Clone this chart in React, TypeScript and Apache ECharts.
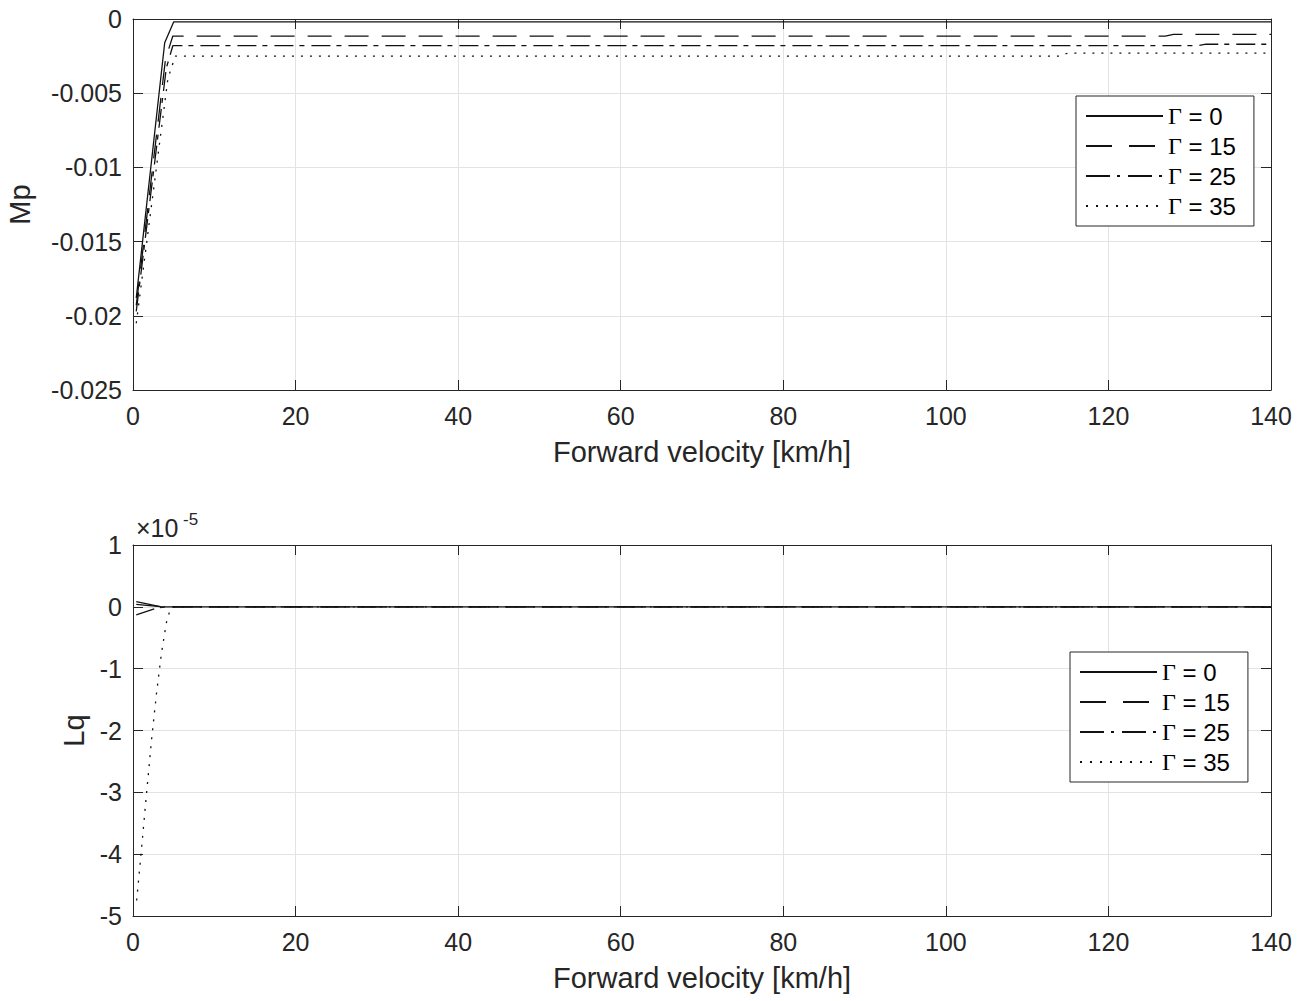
import React, { useEffect, useRef } from "react";
import * as echarts from "echarts";

// ---------- data ----------
const seriesNames = ["Γ = 0", "Γ = 15", "Γ = 25", "Γ = 35"];
const xTicks = [0, 20, 40, 60, 80, 100, 120, 140];

// Mp (top)
const mpVel0 = [0.4, 3.9, 5.0, 140];
const mpVal0 = [-0.0188, -0.0016, -0.0002, -0.0002];
const mpVel15 = [0.4, 4.0, 4.9, 127, 128, 140];
const mpVal15 = [-0.0193, -0.0027, -0.00115, -0.00115, -0.00103, -0.00103];
const mpVel25 = [0.4, 4.1, 4.9, 131, 132, 140];
const mpVal25 = [-0.0197, -0.0033, -0.0018, -0.0018, -0.0017, -0.0017];
const mpVel35 = [0.4, 4.3, 5.2, 114, 115, 140];
const mpVal35 = [-0.0205, -0.004, -0.0025, -0.0025, -0.0023, -0.0023];

// Lq (bottom), in units of 1e-5
const lqVel0 = [0.4, 3.5, 140];
const lqVal0 = [0.085, 0, 0];
const lqVel15 = [0.4, 3.5, 140];
const lqVal15 = [0.04, 0, 0];
const lqVel25 = [0.4, 2.9, 4.0, 140];
const lqVal25 = [-0.13, -0.02, 0, 0];
const lqVel35 = [0.45, 1.07, 1.67, 2.28, 2.9, 3.5, 4.1, 4.6, 5.0, 140];
const lqVal35 = [-4.75, -3.88, -3.01, -2.15, -1.39, -0.75, -0.26, -0.03, 0, 0];

const lineTypes: any[] = ["solid", [24, 13], [19, 6, 5, 7], [2, 7]];
const legendLineTypes: any[] = ["solid", [26, 17], [24, 7, 3, 8], [2, 8]];

const zip = (xs: number[], ys: number[]) => xs.map((x, i) => [x, ys[i]]);

const FONT = "'Liberation Sans', Arial, Helvetica, sans-serif";
const AX = "#262626";
const GRIDC = "#e3e3e3";

export default function App() {
  const ref = useRef<HTMLDivElement>(null);
  useEffect(() => {
    document.body.style.margin = "0";
    const chart = echarts.init(ref.current!, null, { renderer: "svg" });

    const grids = [
      { left: 133, top: 19, width: 1138, height: 371, outerBoundsMode: "none", containLabel: false },
      { left: 133, top: 545, width: 1138, height: 371, outerBoundsMode: "none", containLabel: false },
    ];

    const mainX = (g: number) => ({
      type: "value",
      gridIndex: g,
      min: xTicks[0],
      max: xTicks[xTicks.length - 1],
      interval: xTicks[1] - xTicks[0],
      position: "bottom",
      name: "Forward velocity [km/h]",
      nameLocation: "middle",
      nameGap: 47,
      nameTextStyle: { fontSize: 29, color: AX, fontFamily: FONT },
      axisLine: { show: true, onZero: false, lineStyle: { color: AX, width: 1 } },
      axisTick: { show: true, inside: true, length: 10, lineStyle: { color: AX } },
      axisLabel: { fontSize: 25, color: AX, fontFamily: FONT, margin: 13 },
      splitLine: { show: true, lineStyle: { color: GRIDC, width: 1 } },
    });
    const topX = (g: number) => ({
      type: "value",
      gridIndex: g,
      min: xTicks[0],
      max: xTicks[xTicks.length - 1],
      interval: xTicks[1] - xTicks[0],
      position: "top",
      axisLine: { show: true, onZero: false, lineStyle: { color: AX, width: 1 } },
      axisTick: { show: true, inside: true, length: 10, lineStyle: { color: AX } },
      axisLabel: { show: false },
      splitLine: { show: false },
    });
    const mainY = (g: number, min: number, max: number, interval: number, name: string, gap: number) => ({
      type: "value",
      gridIndex: g,
      min,
      max,
      interval,
      position: "left",
      name,
      nameLocation: "middle",
      nameGap: gap,
      nameTextStyle: { fontSize: 29, color: AX, fontFamily: FONT },
      axisLine: { show: true, onZero: false, lineStyle: { color: AX, width: 1 } },
      axisTick: { show: true, inside: true, length: 10, lineStyle: { color: AX } },
      axisLabel: { fontSize: 25, color: AX, fontFamily: FONT, margin: 11 },
      splitLine: { show: true, lineStyle: { color: GRIDC, width: 1 } },
    });
    const rightY = (g: number, min: number, max: number, interval: number) => ({
      type: "value",
      gridIndex: g,
      min,
      max,
      interval,
      position: "right",
      axisLine: { show: true, onZero: false, lineStyle: { color: AX, width: 1 } },
      axisTick: { show: true, inside: true, length: 10, lineStyle: { color: AX } },
      axisLabel: { show: false },
      splitLine: { show: false },
    });

    const mpData = [
      zip(mpVel0, mpVal0),
      zip(mpVel15, mpVal15),
      zip(mpVel25, mpVal25),
      zip(mpVel35, mpVal35),
    ];
    const lqData = [
      zip(lqVel0, lqVal0),
      zip(lqVel15, lqVal15),
      zip(lqVel25, lqVal25),
      zip(lqVel35, lqVal35),
    ];

    const mk = (name: string, i: number, data: number[][], xi: number, yi: number) => ({
      type: "line",
      name,
      xAxisIndex: xi,
      yAxisIndex: yi,
      data,
      symbol: "none",
      silent: true,
      lineStyle: { color: "#111", width: 1.3, type: lineTypes[i] },
      itemStyle: { color: "#111" },
    });

    const series: any[] = [];
    seriesNames.forEach((n, i) => series.push(mk(n, i, mpData[i], 0, 0)));
    seriesNames.forEach((n, i) => series.push(mk(n, i, lqData[i], 2, 2)));

    const legendBase = {
      orient: "vertical",
      data: seriesNames.map((n, i) => ({ name: n, lineStyle: { type: legendLineTypes[i] } })),
      itemWidth: 77,
      itemHeight: 14,
      itemGap: 6,
      padding: [8, 18, 8, 9],
      borderColor: AX,
      borderWidth: 1,
      backgroundColor: "#fff",
      selectedMode: false,
      itemStyle: { color: "transparent", borderColor: "transparent", borderWidth: 0, opacity: 0 },
      formatter: (n: string) => n.replace("Γ", "{g|Γ}"),
      textStyle: {
        fontSize: 24,
        lineHeight: 24,
        color: "#000",
        fontFamily: FONT,
        rich: {
          g: { fontFamily: "'Liberation Serif', 'DejaVu Serif', serif", fontSize: 24, lineHeight: 24, color: "#000" },
        },
      },
    };

    const option: any = {
      animation: false,
      backgroundColor: "#fff",
      grid: grids,
      xAxis: [mainX(0), topX(0), mainX(1), topX(1)],
      yAxis: [
        mainY(0, -0.025, 0, 0.005, "Mp", 99),
        rightY(0, -0.025, 0, 0.005),
        mainY(1, -5, 1, 1, "Lq", 44),
        rightY(1, -5, 1, 1),
      ],
      legend: [
        { ...legendBase, left: 1076, top: 96 },
        { ...legendBase, left: 1070, top: 652 },
      ],
      graphic: [
        {
          type: "text",
          left: 136,
          top: 515,
          style: { text: "×10", fontSize: 25, fill: AX, fontFamily: FONT },
        },
        {
          type: "text",
          left: 183,
          top: 511,
          style: { text: "-5", fontSize: 17, fill: AX, fontFamily: FONT },
        },
      ],
      series,
    };
    chart.setOption(option);
    return () => chart.dispose();
  }, []);
  return (
    <div
      ref={ref}
      style={{ position: "fixed", left: 0, top: 0, width: 1303, height: 1001, background: "#fff" }}
    />
  );
}
